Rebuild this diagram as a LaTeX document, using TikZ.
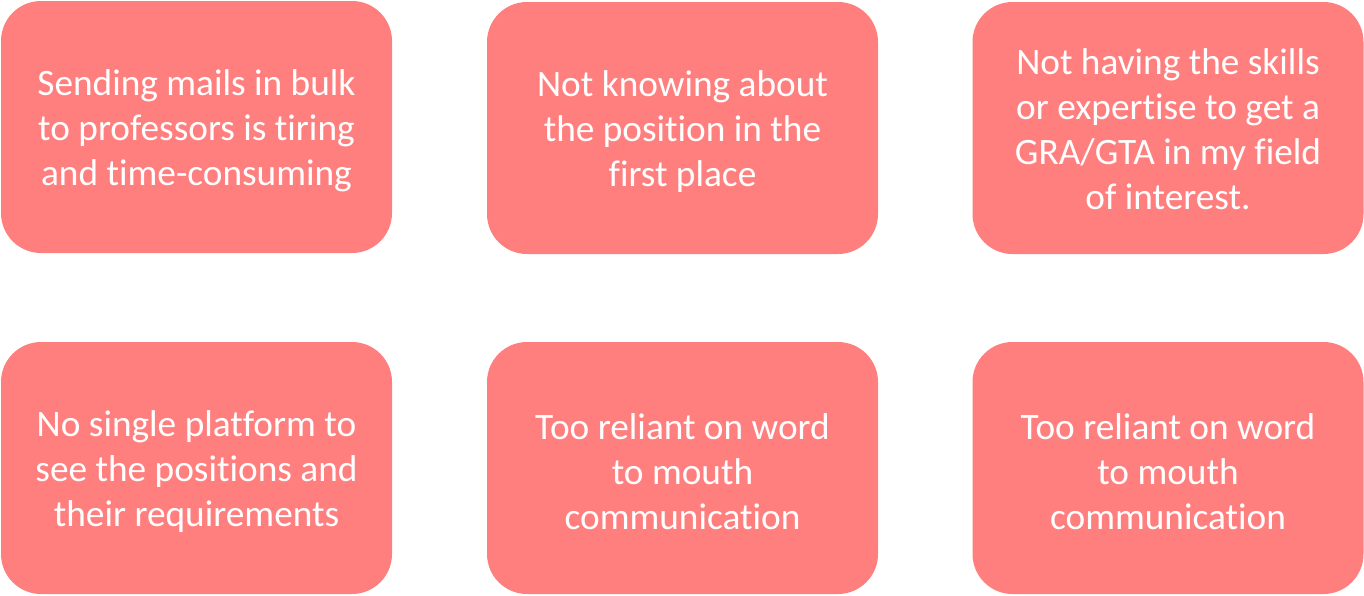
\documentclass[tikz,border=0pt]{standalone}
\usepackage{fontspec}
\setmainfont{Carlito}[Ligatures=NoCommon,RawFeature={-liga;-clig}]
\definecolor{boxfill}{HTML}{FF7F7F}
\begin{document}
\begin{tikzpicture}[x=1pt,y=-1pt,
  issue/.style={rounded corners=40pt, fill=boxfill, draw=none,
    minimum width=391pt, minimum height=252pt, inner sep=0pt},
  issuetext/.style={text=white, inner sep=0pt, align=center,
    font=\fontsize{37.3}{45}\selectfont}]
\useasboundingbox (0,0) rectangle (1364,595);
\node[issue] (a) at (196.5,127) {};
\node[issue] (b) at (682.5,128) {};
\node[issue] (c) at (1168,128) {};
\node[issue] (d) at (196.5,468) {};
\node[issue] (e) at (682.5,468) {};
\node[issue] (f) at (1168,468) {};
\node[issuetext] (ta) at ([yshift=-4pt]a.center) {Sending mails in bulk\\to professors is tiring\\and time-consuming};
\node[issuetext] (tb) at ([yshift=-4pt]b.center) {Not knowing about\\the position in the\\first place};
\node[issuetext] (tc) at ([yshift=-1.5pt]c.center) {Not having the skills\\or expertise to get a\\GRA/GTA in my field\\of interest.};
\node[issuetext] (td) at ([yshift=-4pt]d.center) {No single platform to\\see the positions and\\their requirements};
\node[issuetext] (te) at ([yshift=-4pt]e.center) {Too reliant on word\\to mouth\\communication};
\node[issuetext] (tf) at ([yshift=-4pt]f.center) {Too reliant on word\\to mouth\\communication};
\end{tikzpicture}
\end{document}
